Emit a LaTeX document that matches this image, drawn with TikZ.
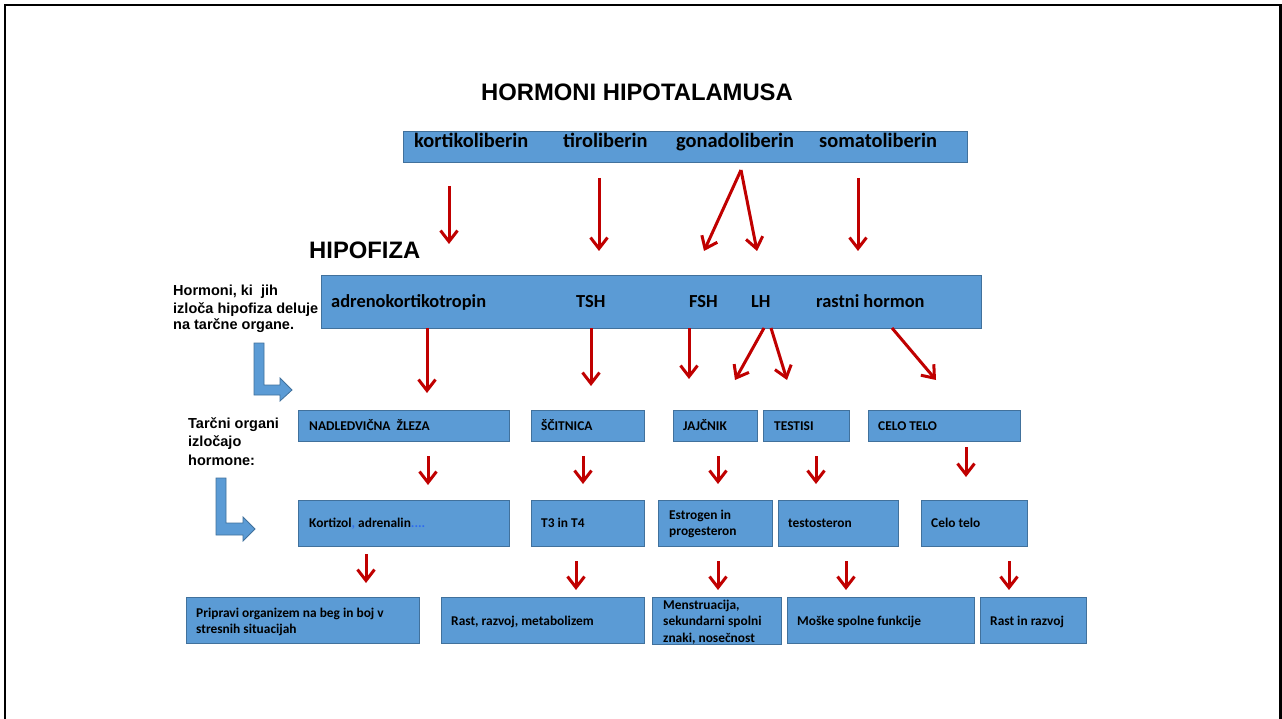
\documentclass[tikz,border=0pt]{standalone}
\usepackage{fontspec}
\setmainfont{Carlito}
\newfontfamily\arial{Liberation Sans}
\usetikzlibrary{arrows.meta}
\definecolor{boxblue}{HTML}{5B9BD5}
\definecolor{boxline}{HTML}{41719C}
\definecolor{arrred}{HTML}{C00000}
\definecolor{linkblue}{HTML}{2E6BF0}
\tikzset{
  box/.style={draw=boxline, fill=boxblue, line width=0.8pt, anchor=north west, inner sep=0pt},
  rarr/.style={draw=arrred, line width=3pt, -{Straight Barb[length=11pt,width=17pt]}},
  bent/.style={draw=boxline, fill=boxblue, line width=0.8pt, line join=miter},
  txt/.style={anchor=base west, inner sep=0pt, font=\bfseries\fontsize{13.4}{16}\selectfont},
  toptxt/.style={anchor=base west, inner sep=0pt, font=\bfseries\fontsize{20.4}{24}\selectfont},
  hiptxt/.style={anchor=base west, inner sep=0pt, font=\bfseries\fontsize{18.4}{22}\selectfont},
  side/.style={anchor=base west, inner sep=0pt, align=left, font=\arial\bfseries\fontsize{14.5}{17}\selectfont},
  big/.style={anchor=base west, inner sep=0pt, font=\arial\bfseries\fontsize{23.8}{28}\selectfont}
}
\begin{document}
\begin{tikzpicture}[x=1pt,y=-1pt]
\useasboundingbox (0,0) rectangle (1282,719);
\fill[white] (0,0) rectangle (1282,719);
% frame
\draw[line width=2.6pt, black] (5,730) -- (5,5) -- (1280.5,5) -- (1280.5,730);

% titles
\node[big] (title) at (481,101) {HORMONI HIPOTALAMUSA};
\node[big] (hipofiza) at (309,259) {HIPOFIZA};

% top box
\node[box, minimum width=564pt, minimum height=31pt] (topbox) at (403,131) {};
\node[toptxt] (kl) at (414,148) {kortikoliberin};
\node[toptxt] (tl) at (563,148) {tiroliberin};
\node[toptxt] (gl) at (676,148) {gonadoliberin};
\node[toptxt] (sl) at (819,148) {somatoliberin};

% hipofiza box
\node[box, minimum width=660pt, minimum height=53pt] (hipbox) at (321,275) {};
\node[hiptxt] (acth) at (331,308) {adrenokortikotropin};
\node[hiptxt] (tsh) at (576,308) {TSH};
\node[hiptxt] (fsh) at (689,308) {FSH};
\node[hiptxt] (lh) at (751,308) {LH};
\node[hiptxt] (gh) at (816,308) {rastni hormon};

% side labels (base = last line)
\node[side] (lab1) at (173,330) {Hormoni, ki\ \ jih\\izloča hipofiza deluje\\na tarčne organe.};
\node[side, font=\arial\bfseries\fontsize{14.5}{18.5}\selectfont] (lab2) at (188,465) {Tarčni organi\\izločajo\\hormone:};

% bent arrows
\draw[bent] (254,343) -- (264,343) -- (264,385) -- (280,385) -- (280,378) -- (292,390) -- (280,401) -- (280,395) -- (254,395) -- cycle;
\draw[bent] (216,478) -- (226,478) -- (226,523) -- (243,523) -- (243,517) -- (255,529) -- (243,541) -- (243,535) -- (216,535) -- cycle;

% row 3: target organs
\node[box, minimum width=211pt, minimum height=31pt] (nad) at (298,410) {};
\node[box, minimum width=113pt, minimum height=31pt] (sci) at (531,410) {};
\node[box, minimum width=84pt, minimum height=31pt] (jaj) at (673,410) {};
\node[box, minimum width=86pt, minimum height=31pt] (tes) at (763,410) {};
\node[box, minimum width=152pt, minimum height=31pt] (cel) at (868,410) {};
\node[txt] (nadt) at (309,430) {NADLEDVIČNA\ \ ŽLEZA};
\node[txt] (scit) at (541,430) {ŠČITNICA};
\node[txt] (jajt) at (683,430) {JAJČNIK};
\node[txt] (test) at (774,430) {TESTISI};
\node[txt] (celt) at (878,430) {CELO TELO};

% row 4: hormones
\node[box, minimum width=211pt, minimum height=46pt] (kor) at (298,500) {};
\node[box, minimum width=113pt, minimum height=46pt] (t34) at (531,500) {};
\node[box, minimum width=114pt, minimum height=46pt] (est) at (658,500) {};
\node[box, minimum width=120pt, minimum height=46pt] (tst) at (778,500) {};
\node[box, minimum width=106pt, minimum height=46pt] (ctl) at (921,500) {};
\node[txt] (kort) at (309,527) {Kortizol\textcolor{linkblue}{,} adrenalin\textcolor{linkblue}{....}};
\node[txt] (t34t) at (541,527) {T3 in T4};
\node[txt, align=left] (estt) at (669,535) {Estrogen in\\progesteron};
\node[txt] (tstt) at (788,527) {testosteron};
\node[txt] (ctlt) at (931,527) {Celo telo};

% row 5: effects
\node[box, minimum width=233pt, minimum height=46pt] (pri) at (186,597) {};
\node[box, minimum width=203pt, minimum height=46pt] (ras) at (441,597) {};
\node[box, minimum width=129pt, minimum height=47pt] (men) at (652,597) {};
\node[box, minimum width=187pt, minimum height=46pt] (mos) at (787,597) {};
\node[box, minimum width=106pt, minimum height=46pt] (rir) at (980,597) {};
\node[txt, align=left] (prit) at (196,633) {Pripravi organizem na beg in boj v\\stresnih situacijah};
\node[txt] (rast) at (451,625) {Rast, razvoj, metabolizem};
\node[txt, align=left, font=\bfseries\fontsize{13.4}{16.5}\selectfont] (ment) at (663,642) {Menstruacija,\\sekundarni spolni\\znaki, nosečnost};
\node[txt] (most) at (797,625) {Moške spolne funkcije};
\node[txt] (rirt) at (990,625) {Rast in razvoj};

% arrow coordinates
\coordinate (a1s) at (449,186); \coordinate (a1e) at (449,244);
\coordinate (a2s) at (599,178); \coordinate (a2e) at (599,251);
\coordinate (a3s) at (741,170); \coordinate (a3l) at (704,251); \coordinate (a3r) at (757,251);
\coordinate (a4s) at (858,178); \coordinate (a4e) at (858,251);

\coordinate (b1s) at (427,328); \coordinate (b1e) at (427,393);
\coordinate (b2s) at (591,328); \coordinate (b2e) at (591,386);
\coordinate (b3s) at (689,328); \coordinate (b3e) at (689,379);
\coordinate (b4s) at (764,328); \coordinate (b4e) at (735,380);
\coordinate (b5s) at (771,328); \coordinate (b5e) at (787,380);
\coordinate (b6s) at (892,328); \coordinate (b6e) at (936,380);

\coordinate (c1s) at (428,456); \coordinate (c1e) at (428,485);
\coordinate (c2s) at (583,456); \coordinate (c2e) at (583,484);
\coordinate (c3s) at (718,456); \coordinate (c3e) at (718,484);
\coordinate (c4s) at (816,456); \coordinate (c4e) at (816,484);
\coordinate (c5s) at (966,447); \coordinate (c5e) at (966,477);

\coordinate (d1s) at (366,554); \coordinate (d1e) at (366,583);
\coordinate (d2s) at (576,561); \coordinate (d2e) at (576,590);
\coordinate (d3s) at (718,561); \coordinate (d3e) at (718,590);
\coordinate (d4s) at (846,561); \coordinate (d4e) at (846,590);
\coordinate (d5s) at (1009,561); \coordinate (d5e) at (1009,590);

\foreach \s/\e in {a1s/a1e,a2s/a2e,a3s/a3l,a3s/a3r,a4s/a4e,
  b1s/b1e,b2s/b2e,b3s/b3e,b4s/b4e,b5s/b5e,b6s/b6e,
  c1s/c1e,c2s/c2e,c3s/c3e,c4s/c4e,c5s/c5e,
  d1s/d1e,d2s/d2e,d3s/d3e,d4s/d4e,d5s/d5e}
  \draw[rarr] (\s) -- (\e);
\end{tikzpicture}
\end{document}
